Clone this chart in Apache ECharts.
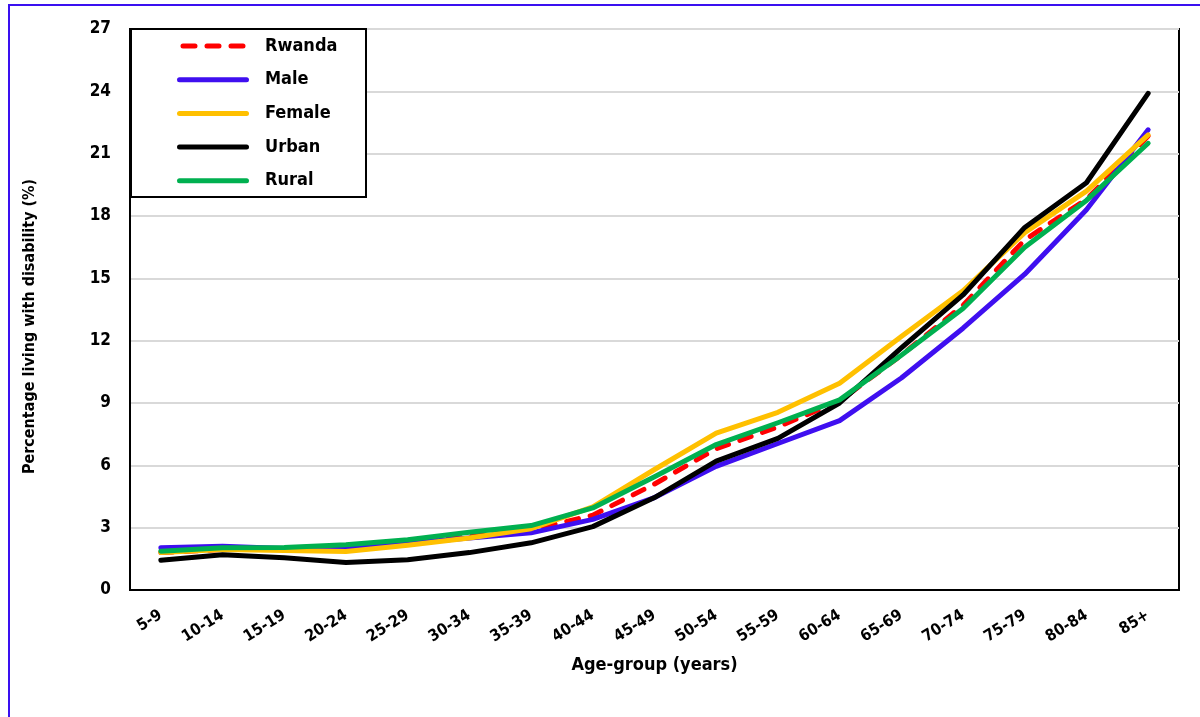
<!DOCTYPE html>
<html>
<head>
<meta charset="utf-8">
<script src="https://cdn.jsdelivr.net/npm/echarts@6/dist/echarts.min.js"></script>
<style>
html,body{margin:0;padding:0;background:#fff;}
#chart{width:1200px;height:717px;}
</style>
</head>
<body>
<div id="chart"></div>
<script>
const categories = ['5-9','10-14','15-19','20-24','25-29','30-34','35-39','40-44','45-49','50-54','55-59','60-64','65-69','70-74','75-79','80-84','85+'];
const rwanda = [1.8, 1.95, 1.95, 2.0, 2.2, 2.6, 2.9, 3.6, 5.1, 6.8, 7.85, 9.1, 11.3, 13.7, 16.85, 18.8, 21.85];
const male   = [2.03, 2.1, 2.0, 2.0, 2.25, 2.5, 2.75, 3.4, 4.45, 5.95, 7.05, 8.15, 10.2, 12.6, 15.2, 18.3, 22.15];
const female = [1.8, 1.95, 1.9, 1.85, 2.15, 2.5, 2.95, 4.0, 5.8, 7.55, 8.55, 9.95, 12.2, 14.4, 17.2, 19.2, 21.9];
const urban  = [1.43, 1.7, 1.55, 1.32, 1.46, 1.8, 2.27, 3.05, 4.45, 6.2, 7.3, 9.0, 11.65, 14.2, 17.45, 19.6, 23.9];
const rural  = [1.87, 2.03, 2.05, 2.18, 2.42, 2.78, 3.1, 3.95, 5.45, 7.0, 8.05, 9.15, 11.3, 13.55, 16.5, 18.75, 21.5];
const yTicks = {min: 0, max: 27, interval: 3};

const FONT = '"DejaVu Sans Condensed", "Liberation Sans Narrow", sans-serif';
const chart = echarts.init(document.getElementById('chart'), null, {renderer: 'canvas'});

const SOLID_ICON = 'path://M2.5,0 H69.5 A2.5,2.5 0 0 1 69.5,5 H2.5 A2.5,2.5 0 0 1 2.5,0 Z';
const DASH_ICON = 'path://M2.5,0 H14.5 A2.5,2.5 0 0 1 14.5,5 H2.5 A2.5,2.5 0 0 1 2.5,0 Z M26.5,0 H38.5 A2.5,2.5 0 0 1 38.5,5 H26.5 A2.5,2.5 0 0 1 26.5,0 Z M50.5,0 H62.5 A2.5,2.5 0 0 1 62.5,5 H50.5 A2.5,2.5 0 0 1 50.5,0 Z';

function mk(name, data, color, dashed) {
  return {
    name: name, type: 'line', data: data, symbol: 'none', smooth: false,
    lineStyle: {color: color, width: 5, type: dashed ? [12, 12] : 'solid', cap: 'round', join: 'round'},
    itemStyle: {color: color},
    emphasis: {disabled: true}
  };
}

chart.setOption({
  animation: false,
  backgroundColor: '#fff',
  graphic: [
    {type: 'polyline', shape: {points: [[9, 720], [9, 5], [1205, 5]]}, style: {stroke: '#3a10f0', lineWidth: 2, fill: null}, z: 100},
    {type: 'rect', shape: {x: 131, y: 29, width: 235, height: 168}, style: {fill: '#fff', stroke: '#000', lineWidth: 2}, z: 50}
  ],
  legend: {
    orient: 'vertical', left: 177, top: 36, padding: 0,
    itemWidth: 72, itemHeight: 5, itemGap: 13.7,
    z: 60,
    textStyle: {fontFamily: FONT, fontWeight: 'bold', fontSize: 18, lineHeight: 20, color: '#000', padding: [0, 0, 0, 11]},
    data: [
      {name: 'Rwanda', icon: DASH_ICON},
      {name: 'Male', icon: SOLID_ICON},
      {name: 'Female', icon: SOLID_ICON},
      {name: 'Urban', icon: SOLID_ICON},
      {name: 'Rural', icon: SOLID_ICON}
    ]
  },
  grid: {left: 130, right: 21, top: 29, bottom: 127, show: true, borderColor: '#000', borderWidth: 2, containLabel: false},
  xAxis: {
    type: 'category', data: categories, boundaryGap: true,
    axisLine: {show: true, lineStyle: {color: '#000', width: 2}},
    axisTick: {show: false},
    axisLabel: {interval: 0, rotate: 32, margin: 24, color: '#000', fontFamily: FONT, fontWeight: 'bold', fontSize: 16},
    name: 'Age-group (years)', nameLocation: 'middle', nameGap: 66,
    nameTextStyle: {color: '#000', fontFamily: FONT, fontWeight: 'bold', fontSize: 18}
  },
  yAxis: {
    type: 'value', min: yTicks.min, max: yTicks.max, interval: yTicks.interval,
    axisLine: {show: true, lineStyle: {color: '#000', width: 2}},
    axisTick: {show: false},
    splitLine: {show: true, lineStyle: {color: '#d9d9d9', width: 2}},
    axisLabel: {color: '#000', fontFamily: FONT, fontWeight: 'bold', fontSize: 17, margin: 19},
    name: 'Percentage living with disability (%)', nameLocation: 'middle', nameGap: 92,
    nameTextStyle: {color: '#000', fontFamily: FONT, fontWeight: 'bold', fontSize: 16, padding: [0, 34, 0, 0]}
  },
  series: [
    mk('Rwanda', rwanda, '#ff0000', true),
    mk('Male', male, '#3f0ff0', false),
    mk('Female', female, '#ffc000', false),
    mk('Urban', urban, '#000000', false),
    mk('Rural', rural, '#00b050', false)
  ]
});
</script>
</body>
</html>
